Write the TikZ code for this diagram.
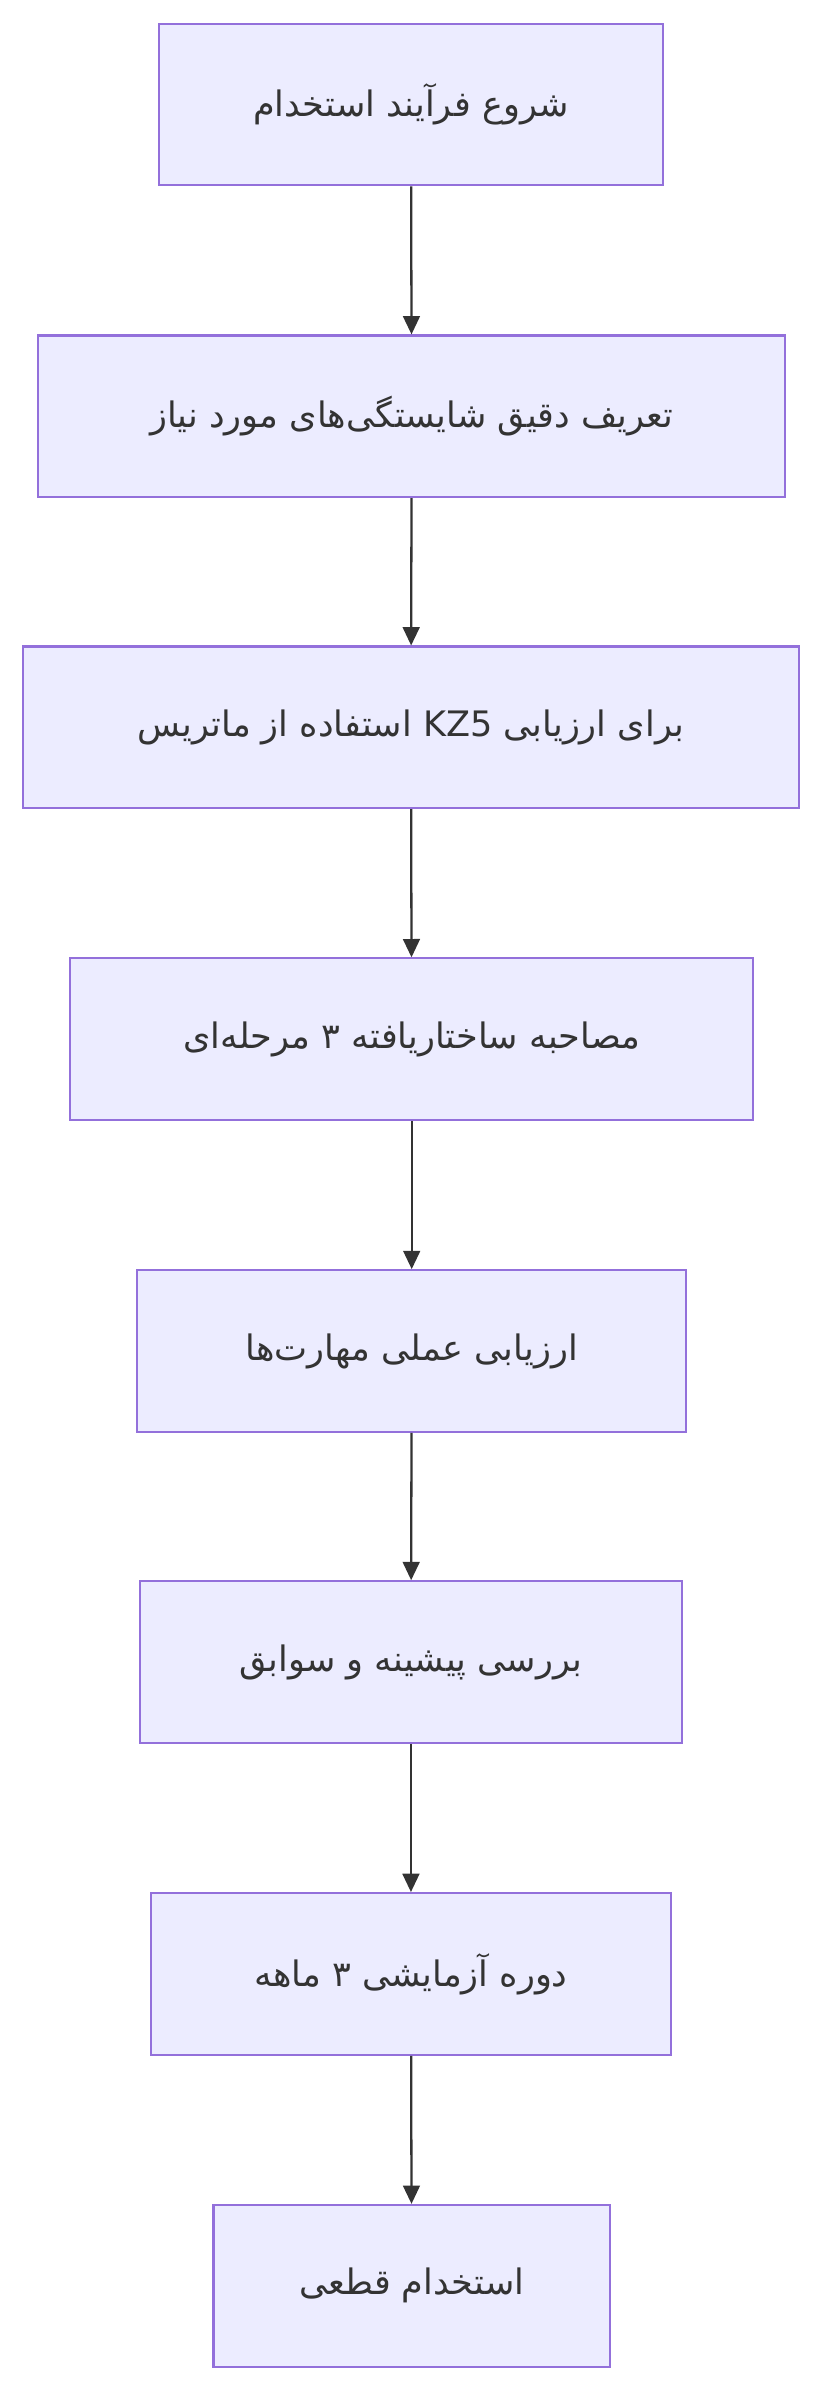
\documentclass[tikz,border=0pt]{standalone}
\usepackage{fontspec}
\newfontfamily\arabicfont[Script=Arabic]{DejaVu Sans}
\TeXXeTstate=1
\usetikzlibrary{arrows.meta}
\definecolor{boxfill}{HTML}{ECECFF}
\definecolor{boxline}{HTML}{9370DB}
\definecolor{arr}{HTML}{333333}
\begin{document}
\begin{tikzpicture}[x=1pt,y=-1pt,
  stepbox/.style={draw=boxline,fill=boxfill,line width=1.4pt,minimum height=106pt,inner sep=0pt,font=\arabicfont\fontsize{23}{27}\selectfont,text=arr},
  link/.style={draw=arr,line width=1.5pt,-{Triangle[length=12pt,width=11pt]}}]
\useasboundingbox (0,0) rectangle (540,1570);
\node[stepbox,minimum width=331pt] (n1) at (269.5,68.5) {\beginR شروع فرآیند استخدام\endR};
\node[stepbox,minimum width=490pt] (n2) at (270,273) {\beginR تعریف دقیق شایستگی‌های مورد نیاز\endR};
\node[stepbox,minimum width=509pt] (n3) at (269.5,477) {\beginR برای ارزیابی \beginL KZ5\endL{} استفاده از ماتریس\endR};
\node[stepbox,minimum width=448pt] (n4) at (270,681.5) {\beginR مصاحبه ساختاریافته ۳ مرحله‌ای\endR};
\node[stepbox,minimum width=360pt] (n5) at (270,886) {\beginR ارزیابی عملی مهارت‌ها\endR};
\node[stepbox,minimum width=355pt] (n6) at (269.5,1090) {\beginR بررسی پیشینه و سوابق\endR};
\node[stepbox,minimum width=341pt] (n7) at (269.5,1294.5) {\beginR دوره آزمایشی ۳ ماهه\endR};
\node[stepbox,minimum width=260pt] (n8) at (270,1499) {\beginR استخدام قطعی\endR};
\foreach \a/\b in {n1/n2,n2/n3,n3/n4,n4/n5,n5/n6,n6/n7,n7/n8}
  \draw[link] (\a) -- (\b);
\end{tikzpicture}
\end{document}
